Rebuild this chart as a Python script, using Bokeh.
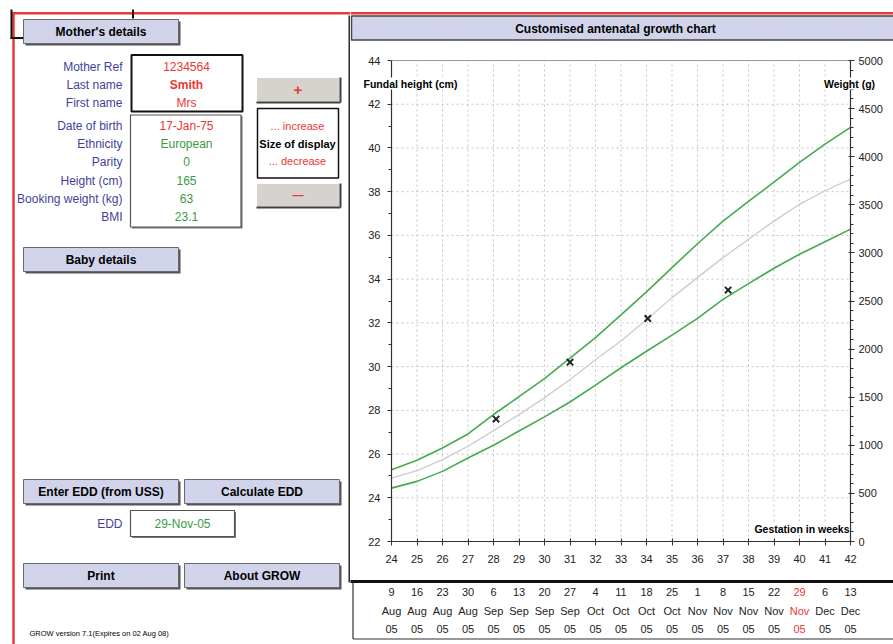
from bokeh.plotting import figure
from bokeh.models import Range1d, LinearAxis, FixedTicker, Label
from bokeh.layouts import row
from bokeh.embed import file_html
from bokeh.resources import INLINE
from bokeh.core.properties import value

FONT = "Liberation Sans"

# ---------------- data ----------------
weeks = list(range(24, 43))
weight_p90 = [747, 844, 972, 1118, 1320, 1505, 1694, 1905, 2120, 2355, 2595, 2847, 3095, 3330, 3535, 3735, 3941, 4130, 4305]
weight_p50 = [660, 736, 851, 990, 1153, 1319, 1493, 1684, 1890, 2085, 2305, 2535, 2743, 2951, 3142, 3330, 3505, 3646, 3767]
weight_p10 = [555, 625, 729, 868, 1000, 1148, 1295, 1450, 1625, 1806, 1978, 2146, 2319, 2517, 2681, 2840, 2986, 3115, 3247]
fundal_weeks = [28.1, 31.0, 34.05, 37.2]
fundal_cm = [27.6, 30.2, 32.2, 33.5]

cm_ticks = list(range(22, 45, 2))
cm_minor = list(range(23, 44, 2))
g_ticks = list(range(0, 5001, 500))
g_minor = list(range(0, 5001, 100))

date_day = ["9", "16", "23", "30", "6", "13", "20", "27", "4", "11", "18", "25", "1", "8", "15", "22", "29", "6", "13"]
date_month = ["Aug"] * 4 + ["Sep"] * 4 + ["Oct"] * 4 + ["Nov"] * 5 + ["Dec"] * 2
date_year = ["05"] * 19
edd_week = 40

mother_labels = ["Mother Ref", "Last name", "First name", "Date of birth", "Ethnicity", "Parity",
                 "Height (cm)", "Booking weight (kg)", "BMI"]
mother_values = ["1234564", "Smith", "Mrs", "17-Jan-75", "European", "0", "165", "63", "23.1"]
edd_text = "29-Nov-05"

# ---------------- colours ----------------
BLUE = "#3f3f9e"
RED = "#ee3535"
GREEN = "#3a9a45"
LINE_GREEN = "#45aa4f"
LAV = "#cdd4ec"
GREYBTN = "#d6d3ce"
REDLINE = "#e83a3a"


def txt(f, x, y, s, color="black", size="12px", align="center", bold=False):
    f.text(x=[x], y=[y], text=[s], text_font=value(FONT), text_font_size=size,
           text_color=color, text_align=align, text_baseline="middle",
           text_font_style="bold" if bold else "normal")


def base(w, h, xr, yr):
    f = figure(width=w, height=h, x_range=xr, y_range=yr, output_backend="svg",
               toolbar_location=None, x_axis_type=None, y_axis_type=None, min_border=0)
    f.grid.visible = False
    f.outline_line_color = None
    f.background_fill_color = "white"
    f.border_fill_color = "white"
    return f


# ---------------- left panel (page pixel coordinates) ----------------
left = base(350, 644, Range1d(0, 350), Range1d(644, 0))


def lav_button(f, l, t, r, b, label):
    f.quad(left=[l + 2], right=[r + 2], top=[t + 2], bottom=[b + 2], fill_color="#555555", line_color=None)
    f.quad(left=[l], right=[r], top=[t], bottom=[b], fill_color=LAV, line_color="#6a6a6a", line_width=1,
           hatch_pattern="dot", hatch_color="#e9c9dd", hatch_alpha=0.6, hatch_scale=5)
    txt(f, (l + r) / 2, (t + b) / 2, label, bold=True)


def grey_button(f, l, t, r, b, label, size):
    f.quad(left=[l], right=[r], top=[t], bottom=[b], fill_color=GREYBTN, line_color=None)
    f.line([l, r], [t, t], line_color="white", line_width=1)
    f.line([l, l], [t, b], line_color="white", line_width=1)
    f.line([l, r + 1], [b + 1, b + 1], line_color="#404040", line_width=2)
    f.line([r + 1, r + 1], [t, b + 1], line_color="#404040", line_width=2)
    txt(f, (l + r) / 2, (t + b) / 2, label, color=RED, size=size, bold=True)


left.line([13, 13], [12, 644], line_color=REDLINE, line_width=2.5)
left.line([12, 350], [12.8, 12.8], line_color=REDLINE, line_width=2.5)
left.line([11, 11], [9, 38], line_color="#111111", line_width=2)
left.line([10, 23], [37.5, 37.5], line_color="#111111", line_width=2)
left.line([132.5, 132.5], [9, 18], line_color="#111111", line_width=2)
left.line([349.2, 349.2], [15, 582], line_color="#333333", line_width=2.5)

lav_button(left, 23, 19, 178, 43, "Mother's details")
lav_button(left, 23, 247, 178, 271, "Baby details")
lav_button(left, 23, 479, 178, 503, "Enter EDD (from USS)")
lav_button(left, 184, 479, 339, 503, "Calculate EDD")
lav_button(left, 23, 563, 178, 587, "Print")
lav_button(left, 184, 563, 339, 587, "About GROW")

grey_button(left, 256, 77, 339, 101, "+", "15px")
grey_button(left, 256, 183, 339, 206, "\u2014", "11px")

left.quad(left=[131], right=[242], top=[54.5], bottom=[111], fill_color="white", line_color="#111111", line_width=2)
left.quad(left=[131.5], right=[242], top=[115.5], bottom=[228], fill_color="#777777", line_color=None)
left.quad(left=[130], right=[240.5], top=[114.5], bottom=[226.5], fill_color="white", line_color="#555555", line_width=1.2)
left.quad(left=[257], right=[338], top=[108], bottom=[177.5], fill_color="white", line_color="#111111", line_width=1.5)
left.quad(left=[131.5], right=[235.5], top=[511.5], bottom=[537.5], fill_color="#777777", line_color=None)
left.quad(left=[130], right=[234], top=[510], bottom=[536], fill_color="white", line_color="#555555", line_width=1.2)

row_y = [66, 84, 102, 125, 143, 161, 180, 198, 216]
val_col = [RED, RED, RED, RED, GREEN, GREEN, GREEN, GREEN, GREEN]
for lab, val, yy, cc in zip(mother_labels, mother_values, row_y, val_col):
    txt(left, 122, yy, lab, color=BLUE, align="right")
    txt(left, 186, yy, val, color=cc, bold=(val == "Smith"))

txt(left, 297, 125, "... increase", color=RED, size="11px")
txt(left, 297, 143, "Size of display", color="black", size="11px", bold=True)
txt(left, 297, 160, "... decrease", color=RED, size="11px")

txt(left, 122, 523, "EDD", color=BLUE, align="right")
txt(left, 182, 523, edd_text, color=GREEN)
txt(left, 29, 633, "GROW version 7.1(Expires on 02 Aug 08)", size="7.5px", align="left")

# ---------------- right panel: chart in data units ----------------
PX_W24, PX_W42 = 391.0, 850.0       # frame of the growth chart (page px)
PY_44, PY_22 = 60.0, 541.0
PXW = (PX_W42 - PX_W24) / 18.0
PXC = (PY_22 - PY_44) / 22.0
G_PER_CM = 5000.0 / 22.0


def X(px):
    return 24 + (px - PX_W24) / PXW


def Y(py):
    return 22 + (PY_22 - py) / PXC


y0, y1 = Y(644), Y(0)
chart = base(543, 644, Range1d(X(350), X(893)), Range1d(y0, y1))
chart.extra_y_ranges = {"wt": Range1d((y0 - 22) * G_PER_CM, (y1 - 22) * G_PER_CM)}

# header
chart.line([X(350), X(893)], [Y(12.8), Y(12.8)], line_color=REDLINE, line_width=2.5)
chart.quad(left=[X(351)], right=[X(900)], top=[Y(15.5)], bottom=[Y(39.5)], fill_color=LAV,
           line_color="#444444", line_width=1.5,
           hatch_pattern="dot", hatch_color="#e9c9dd", hatch_alpha=0.6, hatch_scale=5)
txt(chart, X(615), Y(28), "Customised antenatal growth chart", bold=True)

# grid (dotted) drawn from tick arrays
chart.segment(x0=weeks[1:-1], y0=[22] * 17, x1=weeks[1:-1], y1=[44] * 17,
              line_color="#c4c4c4", line_dash="2 3", line_width=1)
chart.segment(x0=[24] * 10, y0=cm_ticks[1:-1], x1=[42] * 10, y1=cm_ticks[1:-1],
              line_color="#c4c4c4", line_dash="2 3", line_width=1)
chart.line([24, 42], [44, 44], line_color="#9a9a9a", line_width=1.2)

# axes
xaxis = LinearAxis(ticker=FixedTicker(ticks=weeks), fixed_location=22, bounds=(24, 42))
yaxis = LinearAxis(ticker=FixedTicker(ticks=cm_ticks, minor_ticks=cm_minor), fixed_location=24, bounds=(22, 44))
raxis = LinearAxis(y_range_name="wt", ticker=FixedTicker(ticks=g_ticks, minor_ticks=g_minor),
                   fixed_location=42, bounds=(0, 5000))
chart.add_layout(xaxis, "below")
chart.add_layout(yaxis, "left")
chart.add_layout(raxis, "right")
for ax in (xaxis, yaxis, raxis):
    ax.axis_line_color = "#333333"
    ax.axis_line_width = 1.2
    ax.major_tick_line_color = "#333333"
    ax.minor_tick_line_color = "#333333"
    ax.major_label_text_font = FONT
    ax.major_label_text_font_size = "11px"
    ax.major_label_text_color = "#222222"
xaxis.major_tick_in = 3
xaxis.major_tick_out = 4
xaxis.minor_tick_line_color = None
xaxis.major_label_standoff = 9
yaxis.major_tick_in = 0
yaxis.major_tick_out = 4
yaxis.minor_tick_in = 0
yaxis.minor_tick_out = 3
yaxis.major_label_standoff = 7
raxis.major_tick_in = 2
raxis.major_tick_out = 4
raxis.minor_tick_in = 0
raxis.minor_tick_out = 3
raxis.major_label_standoff = 4

# series
chart.line(weeks, weight_p50, y_range_name="wt", line_color="#cccccc", line_width=1.3)
chart.line(weeks, weight_p90, y_range_name="wt", line_color=LINE_GREEN, line_width=1.6)
chart.line(weeks, weight_p10, y_range_name="wt", line_color=LINE_GREEN, line_width=1.6)
chart.scatter(fundal_weeks, fundal_cm, marker="x", size=9, line_color="#222222", line_width=2)

for t, xx, yy, al in [("Fundal height (cm)", X(363), Y(83), "left"),
                      ("Weight (g)", X(849), Y(83), "center"),
                      ("Gestation in weeks", X(849), Y(528.5), "right")]:
    chart.add_layout(Label(x=xx, y=yy, text=t, text_font=FONT, text_font_size="10.5px",
                           text_font_style="bold", text_align=al, text_baseline="middle",
                           background_fill_color="white", text_color="black"))

# dates strip
chart.line([X(346), X(893)], [Y(581), Y(581)], line_color="#111111", line_width=3)
chart.line([X(352.5), X(352.5)], [Y(582), Y(638.5)], line_color="#333333", line_width=1.2)
chart.line([X(352.5), X(893)], [Y(638.5), Y(638.5)], line_color="#333333", line_width=1.2)
date_colors = [RED if w == edd_week else "#222222" for w in weeks]
for py, labels in [(591, date_day), (610, date_month), (628.5, date_year)]:
    chart.text(x=weeks, y=[Y(py)] * len(weeks), text=labels, text_color=date_colors,
               text_font=value(FONT), text_font_size="11px", text_align="center", text_baseline="middle")

layout = row(left, chart)
open("out.html", "w").write(file_html(layout, INLINE))
